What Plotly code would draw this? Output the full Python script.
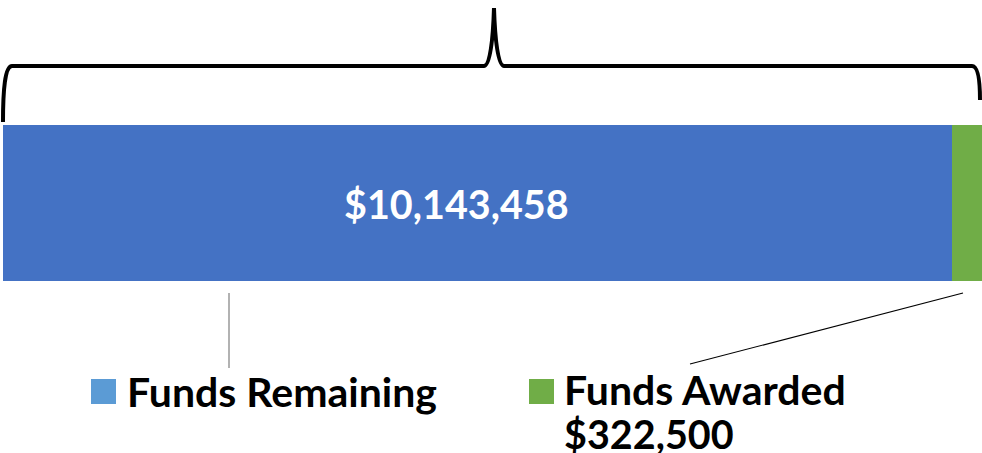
import plotly.graph_objects as go

categories = ["Funds Remaining", "Funds Awarded"]
values = [10143458, 322500]
colors = ["#4472C4", "#70AD47"]
legend_colors = ["#5B9BD5", "#70AD47"]
value_labels = ["$10,143,458", "$322,500"]

W, H = 982, 453
total = sum(values)
x0_px = 3
xrange_ = [-x0_px * total / (W - x0_px), total]

def px(x):
    return x / W

def py(y):
    return 1 - y / H

fig = go.Figure()
for cat, v, c in zip(categories, values, colors):
    fig.add_trace(go.Bar(
        y=[203], x=[v], orientation="h", width=156, name=cat,
        marker=dict(color=c, line=dict(width=0)), showlegend=False,
        hoverinfo="skip",
    ))

FONT = "Lato"
annotations = []
shapes = []

# value label in blue bar
annotations.append(dict(x=px(456), y=py(203), xref="paper", yref="paper",
                        text="<b>" + value_labels[0] + "</b>", showarrow=False,
                        font=dict(family=FONT, size=39.5, color="white"),
                        xanchor="center", yanchor="middle"))

# brace (pixel coords converted to paper)
pts = [
    "M", (3, 122), "C", (3, 90), (5, 66), (12, 66),
    "L", (484, 66), "C", (490, 66), (493, 40), (494, 8),
    "C", (495, 40), (498, 66), (504, 66),
    "L", (972, 66), "C", (978, 66), (980, 80), (980, 100),
]
path = ""
for p in pts:
    if isinstance(p, str):
        path += p + " "
    else:
        path += f"{px(p[0]):.5f},{py(p[1]):.5f} "
shapes.append(dict(type="path", path=path.strip(), xref="paper", yref="paper",
                   line=dict(color="black", width=4)))

# leader lines
shapes.append(dict(type="line", xref="paper", yref="paper",
                   x0=px(229), x1=px(229), y0=py(293), y1=py(368),
                   line=dict(color="#7F7F7F", width=1.2)))
shapes.append(dict(type="line", xref="paper", yref="paper",
                   x0=px(690), x1=px(963), y0=py(364), y1=py(293),
                   line=dict(color="black", width=1.2)))

# legend-like labels
sq = [(91, 379), (529, 379)]
for (sx, sy), lc in zip(sq, legend_colors):
    shapes.append(dict(type="rect", xref="paper", yref="paper",
                       x0=px(sx), x1=px(sx + 25), y0=py(sy), y1=py(sy + 25),
                       fillcolor=lc, line=dict(width=0)))

annotations.append(dict(x=px(125), y=py(391), xref="paper", yref="paper",
                        text="<b>" + categories[0] + "</b>", showarrow=False,
                        font=dict(family=FONT, size=41, color="black"),
                        xanchor="left", yanchor="middle"))
awarded_text = ('<span style="font-size:41px"><b>' + categories[1] + '</b></span><br>'
                '<span style="font-size:39.5px"><b>' + value_labels[1] + '</b></span>')
annotations.append(dict(x=px(562), y=py(411), xref="paper", yref="paper",
                        text=awarded_text, showarrow=False, align="left",
                        font=dict(family=FONT, size=34, color="black"),
                        xanchor="left", yanchor="middle"))

fig.update_layout(
    width=W, height=H, margin=dict(l=0, r=0, t=0, b=0),
    barmode="stack", bargap=0,
    plot_bgcolor="white", paper_bgcolor="white",
    xaxis=dict(range=xrange_, visible=False, fixedrange=True),
    yaxis=dict(range=[H, 0], visible=False, fixedrange=True),
    shapes=shapes, annotations=annotations,
)

fig.write_html("out.html", config={"displayModeBar": False})
